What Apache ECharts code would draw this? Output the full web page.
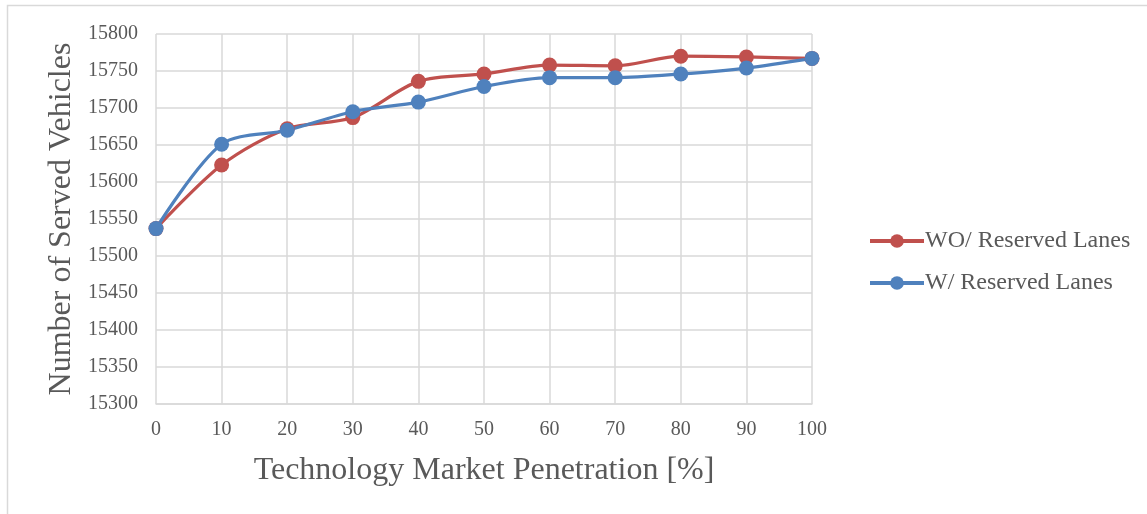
<!DOCTYPE html>
<html><head><meta charset="utf-8">
<script src="https://cdn.jsdelivr.net/npm/echarts@6/dist/echarts.min.js"></script>
<style>html,body{margin:0;padding:0;background:#fff}#c{width:1147px;height:514px}</style>
</head><body><div id="c"></div>
<script>
const categories = ['0','10','20','30','40','50','60','70','80','90','100'];
const woReserved = [15537,15623,15672,15687,15736,15746,15758,15757,15770,15769,15767];
const wReserved  = [15537,15651,15670,15695,15708,15729,15741,15741,15746,15754,15767];
const seriesNames = ['WO/ Reserved Lanes','W/ Reserved Lanes'];
const xTitle = 'Technology Market Penetration [%]';
const yTitle = 'Number of Served Vehicles';

const font = '"Liberation Serif","Times New Roman",serif';
const chart = echarts.init(document.getElementById('c'), null, {renderer:'canvas'});
function mk(name, data, color){
  return {name, type:'line', data, smooth:0.3, symbol:'circle', symbolSize:15,
    lineStyle:{color, width:3.2}, itemStyle:{color}, emphasis:{disabled:true}};
}
chart.setOption({
  animation:false,
  graphic:[{type:'rect', shape:{x:7.5,y:5.5,width:1160,height:530}, style:{fill:null, stroke:'#d9d9d9', lineWidth:1.5}, z:-1}],
  grid:{left:156, right:335, top:34, bottom:110},
  legend:{orient:'vertical', left:868, top:229, padding:0, itemWidth:54, itemHeight:17, itemGap:18,
    lineStyle:{width:4}, itemStyle:{},
    textStyle:{fontFamily:font, fontSize:24, color:'#595959', padding:[0,0,0,-4]}, data:seriesNames, selectedMode:false},
  xAxis:{type:'category', data:categories, boundaryGap:false,
    name:xTitle, nameLocation:'middle', nameGap:51,
    nameTextStyle:{fontFamily:font, fontSize:32, color:'#595959'},
    axisLine:{lineStyle:{color:'#d9d9d9', width:1.5}}, axisTick:{show:false},
    axisLabel:{fontFamily:font, fontSize:20, color:'#595959', margin:16},
    splitLine:{show:true, lineStyle:{color:'#d9d9d9', width:1.5}}},
  yAxis:{type:'value', min:15300, max:15800, interval:50,
    name:yTitle, nameLocation:'middle', nameGap:76,
    nameTextStyle:{fontFamily:font, fontSize:32, color:'#595959'},
    axisLine:{show:false}, axisTick:{show:false},
    axisLabel:{fontFamily:font, fontSize:20, color:'#595959', margin:18, formatter:v=>String(v)},
    splitLine:{show:true, lineStyle:{color:'#d9d9d9', width:1.5}}},
  series:[mk(seriesNames[0], woReserved, '#C0504D'), mk(seriesNames[1], wReserved, '#4F81BD')]
});
</script></body></html>
